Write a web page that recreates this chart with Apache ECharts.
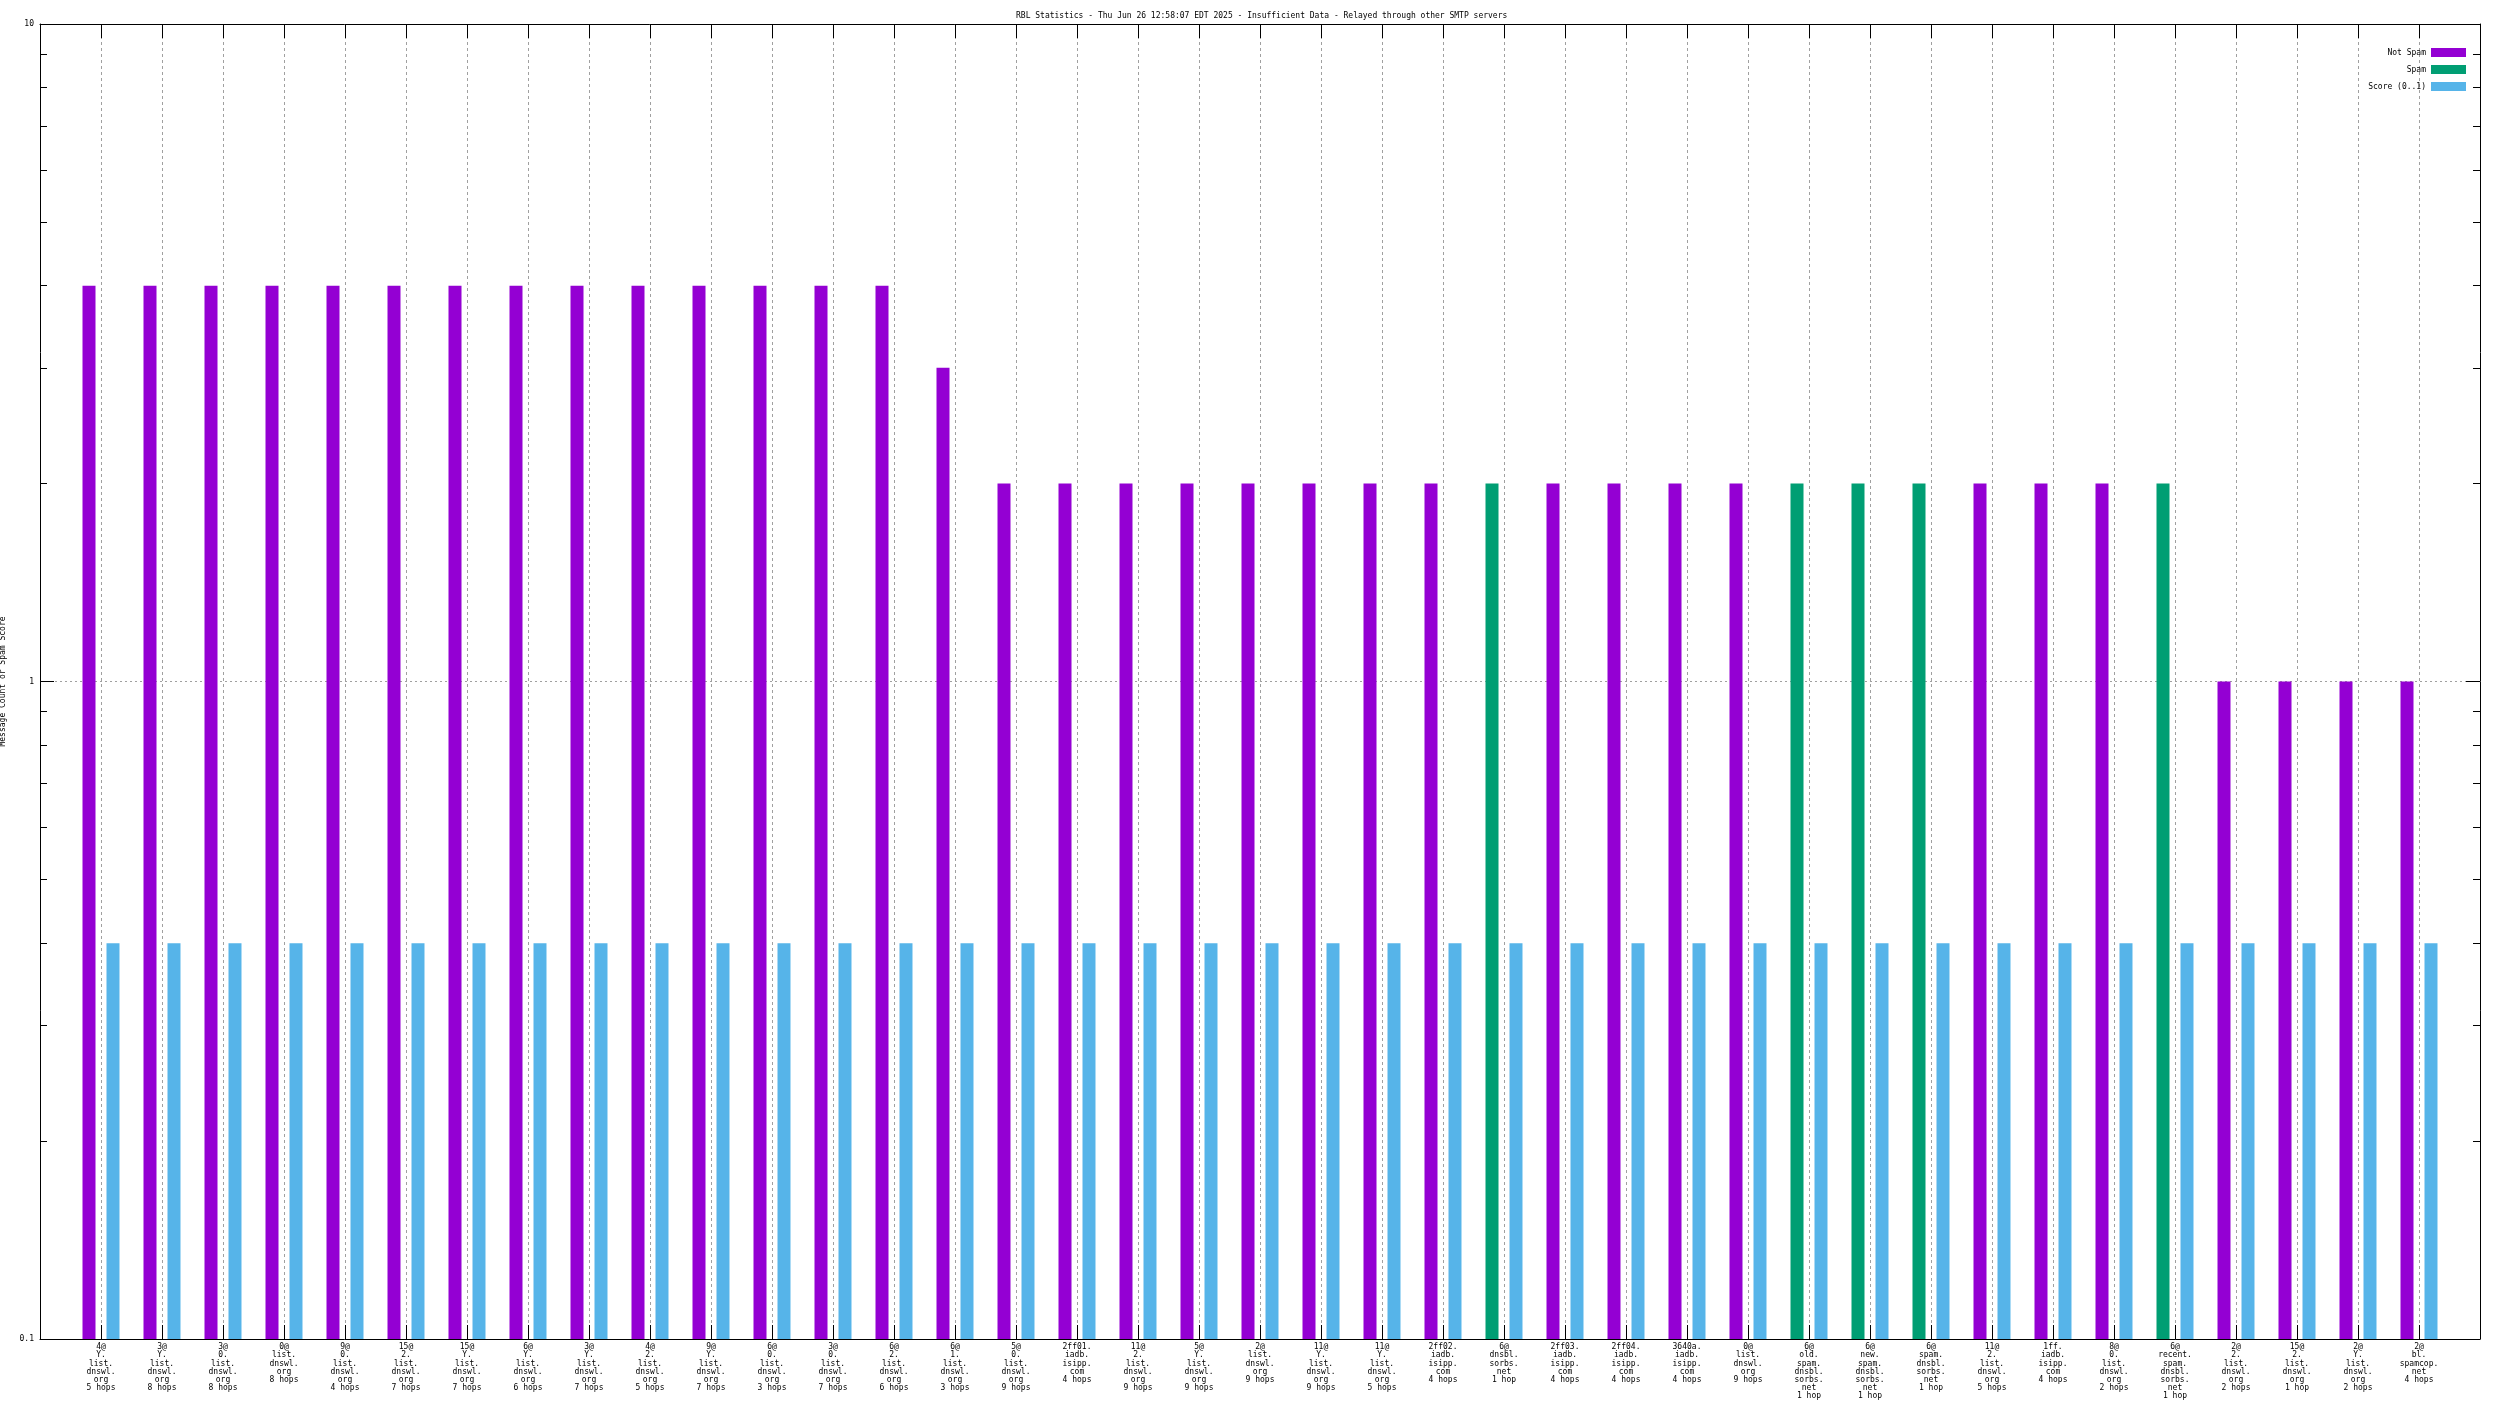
<!DOCTYPE html>
<html>
<head>
<meta charset="utf-8">
<script src="https://cdn.jsdelivr.net/npm/echarts@6/dist/echarts.min.js"></script>
<style>
html,body{margin:0;padding:0;background:#fff;}
#chart{width:2496px;height:1404px;}
</style>
</head>
<body>
<div id="chart"></div>
<script>
var titleText = 'RBL Statistics - Thu Jun 26 12:58:07 EDT 2025 - Insufficient Data - Relayed through other SMTP servers';
var yAxisName = 'Message Count or Spam Score';
var seriesNames = ['Not Spam', 'Spam', 'Score (0..1)'];

var categories = [
  '4@\nY.\nlist.\ndnswl.\norg\n5 hops',
  '3@\nY.\nlist.\ndnswl.\norg\n8 hops',
  '3@\n0.\nlist.\ndnswl.\norg\n8 hops',
  '0@\nlist.\ndnswl.\norg\n8 hops',
  '9@\n0.\nlist.\ndnswl.\norg\n4 hops',
  '15@\n2.\nlist.\ndnswl.\norg\n7 hops',
  '15@\nY.\nlist.\ndnswl.\norg\n7 hops',
  '6@\nY.\nlist.\ndnswl.\norg\n6 hops',
  '3@\nY.\nlist.\ndnswl.\norg\n7 hops',
  '4@\n2.\nlist.\ndnswl.\norg\n5 hops',
  '9@\nY.\nlist.\ndnswl.\norg\n7 hops',
  '6@\n0.\nlist.\ndnswl.\norg\n3 hops',
  '3@\n0.\nlist.\ndnswl.\norg\n7 hops',
  '6@\n2.\nlist.\ndnswl.\norg\n6 hops',
  '6@\n1.\nlist.\ndnswl.\norg\n3 hops',
  '5@\n0.\nlist.\ndnswl.\norg\n9 hops',
  '2ff01.\niadb.\nisipp.\ncom\n4 hops',
  '11@\n2.\nlist.\ndnswl.\norg\n9 hops',
  '5@\nY.\nlist.\ndnswl.\norg\n9 hops',
  '2@\nlist.\ndnswl.\norg\n9 hops',
  '11@\nY.\nlist.\ndnswl.\norg\n9 hops',
  '11@\nY.\nlist.\ndnswl.\norg\n5 hops',
  '2ff02.\niadb.\nisipp.\ncom\n4 hops',
  '6@\ndnsbl.\nsorbs.\nnet\n1 hop',
  '2ff03.\niadb.\nisipp.\ncom\n4 hops',
  '2ff04.\niadb.\nisipp.\ncom\n4 hops',
  '3640a.\niadb.\nisipp.\ncom\n4 hops',
  '0@\nlist.\ndnswl.\norg\n9 hops',
  '6@\nold.\nspam.\ndnsbl.\nsorbs.\nnet\n1 hop',
  '6@\nnew.\nspam.\ndnsbl.\nsorbs.\nnet\n1 hop',
  '6@\nspam.\ndnsbl.\nsorbs.\nnet\n1 hop',
  '11@\n2.\nlist.\ndnswl.\norg\n5 hops',
  '1ff.\niadb.\nisipp.\ncom\n4 hops',
  '8@\n0.\nlist.\ndnswl.\norg\n2 hops',
  '6@\nrecent.\nspam.\ndnsbl.\nsorbs.\nnet\n1 hop',
  '2@\n2.\nlist.\ndnswl.\norg\n2 hops',
  '15@\n2.\nlist.\ndnswl.\norg\n1 hop',
  '2@\nY.\nlist.\ndnswl.\norg\n2 hops',
  '2@\nbl.\nspamcop.\nnet\n4 hops'
];

var notSpam = [4,4,4,4,4,4,4,4,4,4,4,4,4,4,3,2,2,2,2,2,2,2,2,null,2,2,2,2,null,null,null,2,2,2,null,1,1,1,1];
var spam    = [null,null,null,null,null,null,null,null,null,null,null,null,null,null,null,null,null,null,null,null,null,null,null,2,null,null,null,null,2,2,2,null,null,null,2,null,null,null,null];
var score   = [0.4,0.4,0.4,0.4,0.4,0.4,0.4,0.4,0.4,0.4,0.4,0.4,0.4,0.4,0.4,0.4,0.4,0.4,0.4,0.4,0.4,0.4,0.4,0.4,0.4,0.4,0.4,0.4,0.4,0.4,0.4,0.4,0.4,0.4,0.4,0.4,0.4,0.4,0.4];

var yMin = 0.1, yMax = 10;
var minorTickValues = [0.2,0.3,0.4,0.5,0.6,0.7,0.8,0.9,2,3,4,5,6,7,8,9];

// pad one empty category on each side (gnuplot leaves one slot of room)
function pad(a){ return [null].concat(a, [null]); }
var axisCats = [''].concat(categories, ['']);
var emptySeries = axisCats.map(function(){ return null; });

var FONT = 'DejaVu Sans Mono';
var BLACK = '#000000';

function yAxisBase(pos, minor){
  return {
    type: 'log', logBase: 10, min: yMin, max: yMax, startValue: yMin, position: pos,
    axisLine: { show: !minor, lineStyle: { color: BLACK, width: 1 } },
    axisTick: minor ? { show: true, inside: true, length: 7, lineStyle: { color: BLACK, width: 1 }, customValues: minorTickValues }
                    : { show: true, inside: true, length: 14, lineStyle: { color: BLACK, width: 1 } },
    axisLabel: { show: false },
    splitLine: { show: false },
    minorTick: { show: false }
  };
}

var yMain = yAxisBase('left', false);
yMain.axisLabel = {
  show: true, color: BLACK, fontSize: 8, fontFamily: FONT, margin: 6,
  formatter: function(v){ return String(+Number(v).toPrecision(3)); }
};
yMain.splitLine = { show: true, lineStyle: { color: '#a0a0a0', type: [2, 3], width: 1 } };
yMain.name = yAxisName;
yMain.nameLocation = 'middle';
yMain.nameRotate = 90;
yMain.nameGap = 33;
yMain.nameTextStyle = { color: BLACK, fontSize: 8, fontFamily: FONT };

var chart = echarts.init(document.getElementById('chart'), null, { renderer: 'canvas' });
chart.setOption({
  backgroundColor: '#ffffff',
  animation: false,
  title: {
    text: titleText, left: 1011, top: 7,
    textStyle: { color: BLACK, fontSize: 8, fontFamily: FONT, fontWeight: 'normal' }
  },
  legend: {
    data: seriesNames,
    orient: 'vertical', right: 25, top: 43, align: 'right',
    itemWidth: 35, itemHeight: 9, itemGap: 8, icon: 'rect',
    textStyle: { color: BLACK, fontSize: 8, fontFamily: FONT }
  },
  grid: { left: 40, right: 16, top: 24, bottom: 65, containLabel: false, outerBoundsMode: 'none' },
  xAxis: [
    {
      type: 'category', data: axisCats, boundaryGap: false, position: 'bottom',
      axisLine: { show: true, lineStyle: { color: BLACK, width: 1 } },
      axisTick: { show: true, inside: true, length: 14, interval: 0, lineStyle: { color: BLACK, width: 1 } },
      axisLabel: { show: true, interval: 0, color: BLACK, fontSize: 8, fontFamily: FONT, lineHeight: 8.2, margin: 4, align: 'center' },
      splitLine: { show: true, interval: 0, lineStyle: { color: '#a0a0a0', type: [3, 3], width: 1 } }
    },
    {
      type: 'category', data: axisCats, boundaryGap: false, position: 'top',
      axisLine: { show: true, lineStyle: { color: BLACK, width: 1 } },
      axisTick: { show: true, inside: true, length: 14, interval: 0, lineStyle: { color: BLACK, width: 1 } },
      axisLabel: { show: false },
      splitLine: { show: false }
    }
  ],
  yAxis: [ yMain, yAxisBase('left', true), yAxisBase('right', false), yAxisBase('right', true) ],
  series: [
    { name: seriesNames[0], type: 'bar', xAxisIndex: 0, yAxisIndex: 0, data: pad(notSpam),
      barWidth: 13, barGap: '84.6%', itemStyle: { color: '#9400D3' } },
    { name: seriesNames[2], type: 'bar', xAxisIndex: 0, yAxisIndex: 0, data: pad(score),
      barWidth: 13, barGap: '84.6%', itemStyle: { color: '#56B4E9' } },
    { name: seriesNames[1], type: 'bar', xAxisIndex: 1, yAxisIndex: 0, data: pad(spam),
      barWidth: 13, barGap: '84.6%', itemStyle: { color: '#009E73' } },
    { name: '_slot', type: 'bar', xAxisIndex: 1, yAxisIndex: 0, data: emptySeries,
      barWidth: 13, barGap: '84.6%', itemStyle: { color: 'rgba(0,0,0,0)' } }
  ]
});
</script>
</body>
</html>
